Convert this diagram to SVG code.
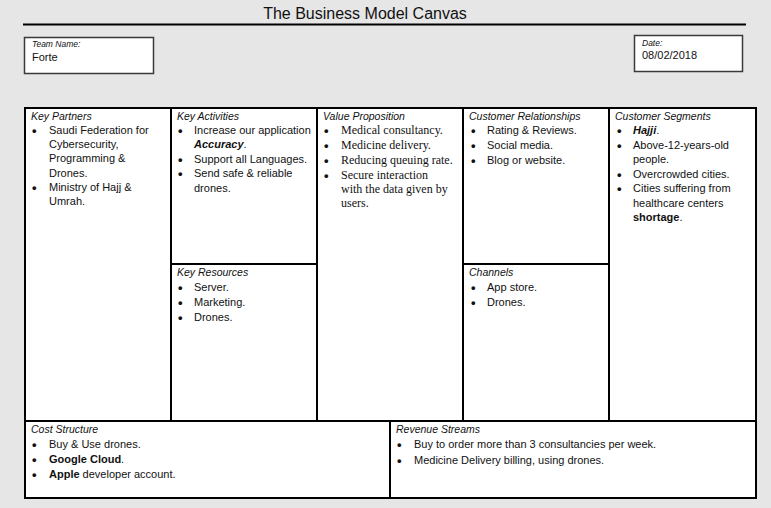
<svg xmlns="http://www.w3.org/2000/svg" width="771" height="508" viewBox="0 0 771 508">
  <style>
    .bg { fill: #e6e6e6; }
    .cell { fill: #ffffff; stroke: #000; stroke-width: 2; }
    .info { fill: #ffffff; stroke: #3a3a3a; stroke-width: 1.5; }
    .title { font-family: "Liberation Sans", Arial, sans-serif; font-size: 16px; fill: #111; text-anchor: middle; }
    .hd { font-family: "Liberation Sans", Arial, sans-serif; font-style: italic; font-size: 10.5px; fill: #111; }
    .lbl { font-family: "Liberation Sans", Arial, sans-serif; font-style: italic; font-size: 8.5px; fill: #111; }
    .tx { font-family: "Liberation Sans", Arial, sans-serif; font-size: 11px; fill: #111; }
    .sr { font-family: "Liberation Serif", "Times New Roman", serif; font-size: 12px; fill: #111; }
    .dot { font-family: "Liberation Sans", Arial, sans-serif; font-size: 13px; font-weight: bold; fill: #111; }
    .b { font-weight: bold; }
    .bi { font-weight: bold; font-style: italic; }
  </style>

  <rect class="bg" x="0" y="0" width="771" height="508"/>

  <!-- heading -->
  <g id="title">
    <text class="title" x="365" y="19">The Business Model Canvas</text>
    <line x1="23" y1="24.5" x2="746" y2="24.5" stroke="#000" stroke-width="2.2"/>
  </g>

  <g id="team-name">
    <rect class="info" x="24.5" y="37.5" width="129" height="36"/>
    <text class="lbl" x="32" y="47">Team Name:</text>
    <text class="tx" x="32" y="61">Forte</text>
  </g>

  <g id="date">
    <rect class="info" x="634.5" y="35.5" width="108" height="36"/>
    <text class="lbl" x="642" y="46">Date:</text>
    <text class="tx" x="642" y="59">08/02/2018</text>
  </g>

  <!-- canvas blocks -->
  <g id="key-partners">
    <rect class="cell" x="25" y="108" width="146" height="313"/>
    <text class="hd" x="31" y="120">Key Partners</text>
    <g class="dot">
      <text x="32" y="134.5">•</text>
      <text x="32" y="191.5">•</text>
    </g>
    <g class="tx">
      <text x="49" y="134">Saudi Federation for</text>
      <text x="49" y="148">Cybersecurity,</text>
      <text x="49" y="162">Programming &amp;</text>
      <text x="49" y="177">Drones.</text>
      <text x="49" y="191">Ministry of Hajj &amp;</text>
      <text x="49" y="205">Umrah.</text>
    </g>
  </g>

  <g id="key-activities">
    <rect class="cell" x="171" y="108" width="146" height="156"/>
    <text class="hd" x="177" y="120">Key Activities</text>
    <g class="dot">
      <text x="178" y="134.5">•</text>
      <text x="178" y="163.5">•</text>
      <text x="178" y="177.5">•</text>
    </g>
    <g class="tx">
      <text x="194" y="134">Increase our application</text>
      <text x="194" y="148"><tspan class="bi">Accuracy</tspan>.</text>
      <text x="194" y="163">Support all Languages.</text>
      <text x="194" y="177">Send safe &amp; reliable</text>
      <text x="194" y="192">drones.</text>
    </g>
  </g>

  <g id="key-resources">
    <rect class="cell" x="171" y="264" width="146" height="157"/>
    <text class="hd" x="177" y="276">Key Resources</text>
    <g class="dot">
      <text x="178" y="291.5">•</text>
      <text x="178" y="306.5">•</text>
      <text x="178" y="321.5">•</text>
    </g>
    <g class="tx">
      <text x="194" y="291">Server.</text>
      <text x="194" y="306">Marketing.</text>
      <text x="194" y="321">Drones.</text>
    </g>
  </g>

  <g id="value-proposition">
    <rect class="cell" x="317" y="108" width="146" height="313"/>
    <text class="hd" x="323" y="120">Value Proposition</text>
    <g class="dot">
      <text x="324" y="134.5">•</text>
      <text x="324" y="149.5">•</text>
      <text x="324" y="164.5">•</text>
      <text x="324" y="179.5">•</text>
    </g>
    <g class="sr">
      <text x="341" y="134">Medical consultancy.</text>
      <text x="341" y="149">Medicine delivery.</text>
      <text x="341" y="164">Reducing queuing rate.</text>
      <text x="341" y="179">Secure interaction</text>
      <text x="341" y="193">with the data given by</text>
      <text x="341" y="207">users.</text>
    </g>
  </g>

  <g id="customer-relationships">
    <rect class="cell" x="463" y="108" width="146" height="156"/>
    <text class="hd" x="469" y="120">Customer Relationships</text>
    <g class="dot">
      <text x="471" y="134.5">•</text>
      <text x="471" y="149.5">•</text>
      <text x="471" y="164.5">•</text>
    </g>
    <g class="tx">
      <text x="487" y="134">Rating &amp; Reviews.</text>
      <text x="487" y="149">Social media.</text>
      <text x="487" y="164">Blog or website.</text>
    </g>
  </g>

  <g id="channels">
    <rect class="cell" x="463" y="264" width="146" height="157"/>
    <text class="hd" x="469" y="276">Channels</text>
    <g class="dot">
      <text x="471" y="291.5">•</text>
      <text x="471" y="306.5">•</text>
    </g>
    <g class="tx">
      <text x="487" y="291">App store.</text>
      <text x="487" y="306">Drones.</text>
    </g>
  </g>

  <g id="customer-segments">
    <rect class="cell" x="609" y="108" width="147" height="313"/>
    <text class="hd" x="615" y="120">Customer Segments</text>
    <g class="dot">
      <text x="617" y="134.5">•</text>
      <text x="617" y="149.5">•</text>
      <text x="617" y="178.5">•</text>
      <text x="617" y="192.5">•</text>
    </g>
    <g class="tx">
      <text x="633" y="134"><tspan class="bi">Hajji</tspan>.</text>
      <text x="633" y="149">Above-12-years-old</text>
      <text x="633" y="163">people.</text>
      <text x="633" y="178">Overcrowded cities.</text>
      <text x="633" y="192">Cities suffering from</text>
      <text x="633" y="207">healthcare centers</text>
      <text x="633" y="221"><tspan class="b">shortage</tspan>.</text>
    </g>
  </g>

  <g id="cost-structure">
    <rect class="cell" x="25" y="421" width="365" height="77"/>
    <text class="hd" x="31" y="433">Cost Structure</text>
    <g class="dot">
      <text x="32" y="448.5">•</text>
      <text x="32" y="463.5">•</text>
      <text x="32" y="478.5">•</text>
    </g>
    <g class="tx">
      <text x="49" y="448">Buy &amp; Use drones.</text>
      <text x="49" y="463"><tspan class="b">Google Cloud</tspan>.</text>
      <text x="49" y="478"><tspan class="b">Apple</tspan> developer account.</text>
    </g>
  </g>

  <g id="revenue-streams">
    <rect class="cell" x="390" y="421" width="366" height="77"/>
    <text class="hd" x="396" y="433">Revenue Streams</text>
    <g class="dot">
      <text x="397" y="448.5">•</text>
      <text x="397" y="464.5">•</text>
    </g>
    <g class="tx">
      <text x="414" y="448">Buy to order more than 3 consultancies per week.</text>
      <text x="414" y="464">Medicine Delivery billing, using drones.</text>
    </g>
  </g>
</svg>
